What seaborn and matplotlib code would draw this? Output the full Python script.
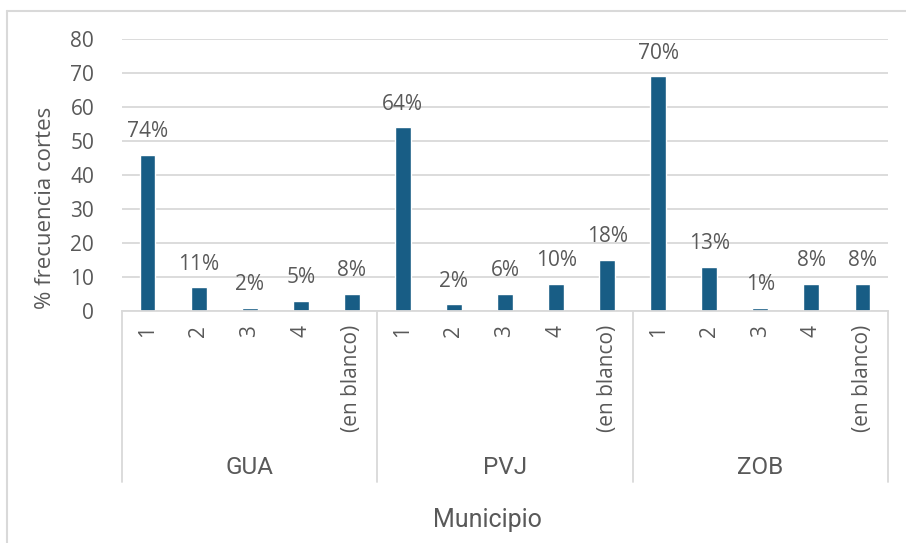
import matplotlib
matplotlib.use("Agg")
import matplotlib.pyplot as plt
import seaborn as sns
import pandas as pd
from matplotlib.lines import Line2D

groups = ["GUA", "PVJ", "ZOB"]
subcats = ["1", "2", "3", "4", "(en blanco)"]
values_gua = [46, 7, 1, 3, 5]
values_pvj = [54, 2, 5, 8, 15]
values_zob = [69, 13, 1, 8, 8]
labels_gua = ["74%", "11%", "2%", "5%", "8%"]
labels_pvj = ["64%", "2%", "6%", "10%", "18%"]
labels_zob = ["70%", "13%", "1%", "8%", "8%"]
yticks = [0, 10, 20, 30, 40, 50, 60, 70, 80]

rows = []
for g, vals, labs in zip(groups, [values_gua, values_pvj, values_zob],
                         [labels_gua, labels_pvj, labels_zob]):
    for s, v, l in zip(subcats, vals, labs):
        rows.append({"key": f"{g}|{s}", "group": g, "sub": s, "value": v, "label": l})
df = pd.DataFrame(rows)

sns.set_theme(style="white")
plt.rcParams["font.family"] = ["Open Sans", "DejaVu Sans"]

TEXT = "#595959"
BAR = "#185d85"
GRID = "#d9d9d9"

W, H = 906, 543
fig = plt.figure(figsize=(W / 100, H / 100), dpi=100)
left, right, top, bottom = 122, 888, 39, 311
ax = fig.add_axes([left / W, 1 - bottom / H, (right - left) / W, (bottom - top) / H])

sns.barplot(data=df, x="key", y="value", color=BAR, width=0.31, ax=ax,
            saturation=1, errorbar=None)

ax.set_ylim(0, 80)
ax.set_yticks(yticks)
ax.set_yticklabels([str(t) for t in yticks], color=TEXT, fontsize=15)
ax.tick_params(axis="y", length=0, pad=20)
ax.yaxis.grid(True, color=GRID, linewidth=1.3)
ax.set_axisbelow(True)
for sp in ["top", "right", "left"]:
    ax.spines[sp].set_visible(False)
ax.spines["bottom"].set_color(GRID)
ax.spines["bottom"].set_linewidth(1.3)
ax.set_xlim(-0.5, len(df) - 0.5)

ax.set_xticks(range(len(df)))
ax.set_xticklabels(df["sub"], rotation=90, color=TEXT, fontsize=15, va="top")
ax.tick_params(axis="x", length=0, pad=10)
ax.set_xlabel("")
ax.set_ylabel("% frecuencia cortes", color=TEXT, fontsize=16)
ax.yaxis.set_label_coords((56 - left) / (right - left), (bottom - 208) / (bottom - top))

# value labels
for i, (v, l) in enumerate(zip(df["value"], df["label"])):
    ax.annotate(l, (i, v), xytext=(0, 9), textcoords="offset points",
                ha="center", va="bottom", color=TEXT, fontsize=15)

# group separators and labels
trans = ax.get_xaxis_transform()
sep_y = -(482 - 311) / (bottom - top)
for k in range(len(groups) + 1):
    x = k * 5 - 0.5
    ax.add_line(Line2D([x, x], [0, sep_y], transform=trans, color=GRID,
                       linewidth=1.3, clip_on=False))
grp_y = -(467 - 311) / (bottom - top)
for k, g in enumerate(groups):
    ax.text(k * 5 + 2, grp_y, g, transform=trans, ha="center", va="center",
            color=TEXT, fontsize=17.5, family=["Roboto", "DejaVu Sans"])

fig.text(487 / W, 1 - 520 / H, "Municipio", ha="center", va="center",
         color=TEXT, fontsize=18, family=["Roboto", "DejaVu Sans"])

# outer chart border (top and left)
fig.add_artist(Line2D([7 / W, 1.0], [1 - 11 / H, 1 - 11 / H], color=GRID,
                      linewidth=1.5, transform=fig.transFigure))
fig.add_artist(Line2D([7 / W, 7 / W], [1 - 11 / H, 0.0], color=GRID,
                      linewidth=1.5, transform=fig.transFigure))

fig.savefig("out.png", dpi=100)
